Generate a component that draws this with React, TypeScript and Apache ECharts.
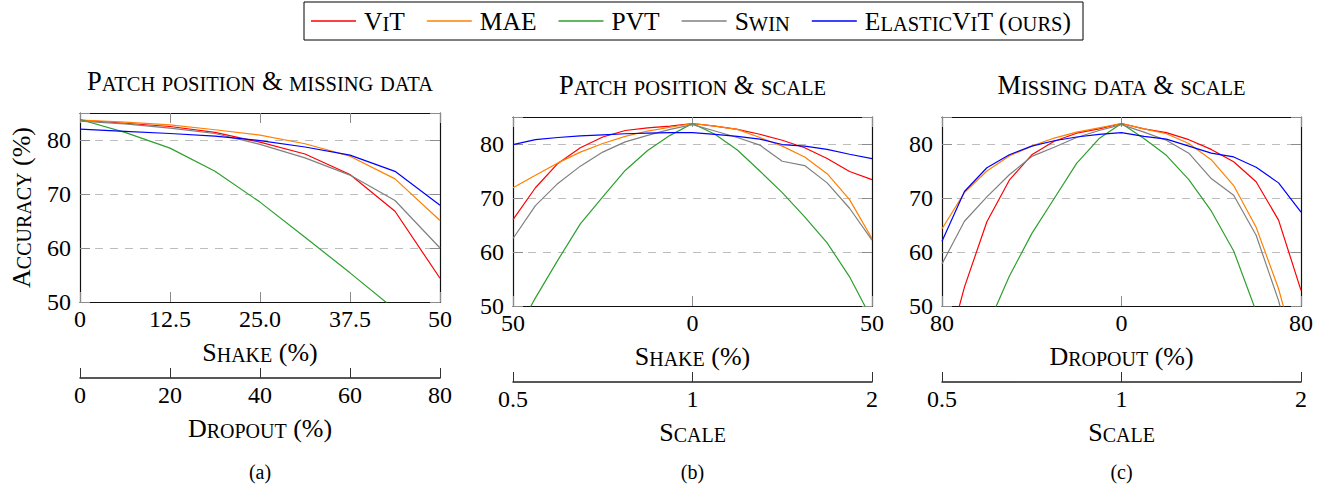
import React, { useEffect, useRef } from "react";
import * as echarts from "echarts";

const FONT = "'Liberation Serif', 'Times New Roman', Times, serif";

const seriesNames = ["ViT", "MAE", "PVT", "Swin", "ElasticViT (ours)"];
const seriesColors = ["#ff0000", "#ff8000", "#2ca02c", "#808080", "#0000ff"];

// ---------- Panel (a): patch position & missing data ----------
const shakeA = [0, 6.25, 12.5, 18.75, 25, 31.25, 37.5, 43.75, 50];
const vitA = [83.7, 83.1, 82.5, 81.4, 79.6, 77.4, 73.6, 66.8, 54.4];
const maeA = [83.7, 83.3, 82.8, 81.9, 80.9, 79.3, 77.0, 72.8, 65.1];
const pvtA = [83.8, 81.4, 78.5, 74.2, 68.5, 62.0, 55.4, 48.6, 40.0];
const swinA = [83.5, 83.0, 82.2, 81.2, 79.2, 76.7, 73.5, 68.8, 60.0];
const elasticA = [82.0, 81.6, 81.2, 80.7, 79.9, 78.7, 77.2, 74.2, 67.9];

const shakeTickValuesA = [0, 12.5, 25, 37.5, 50];
const shakeTickLabelsA = ["0", "12.5", "25.0", "37.5", "50"];
const dropoutTickValuesA = [0, 20, 40, 60, 80];
const dropoutTickLabelsA = ["0", "20", "40", "60", "80"];

// ---------- Panel (b): patch position & scale ----------
const shakeB = [-50, -43.75, -37.5, -31.25, -25, -18.75, -12.5, -6.25, 0, 6.25, 12.5, 18.75, 25, 31.25, 37.5, 43.75, 50];
const vitB = [66.0, 71.9, 76.4, 79.3, 81.3, 82.5, 83.0, 83.3, 83.8, 83.3, 82.7, 81.8, 80.7, 79.3, 77.3, 74.9, 73.4];
const maeB = [71.9, 74.2, 76.5, 78.5, 80.1, 81.4, 82.4, 83.1, 83.8, 83.3, 82.7, 81.2, 79.6, 77.6, 74.5, 69.7, 62.5];
const pvtB = [44.0, 51.5, 58.5, 65.2, 70.2, 75.1, 78.8, 81.6, 83.8, 81.8, 78.9, 75.0, 71.0, 66.5, 61.7, 55.4, 47.5];
const swinB = [62.5, 68.6, 72.7, 75.9, 78.5, 80.4, 81.6, 82.7, 83.6, 82.4, 81.2, 79.8, 76.8, 76.0, 72.8, 68.1, 62.2];
const elasticB = [79.9, 80.8, 81.2, 81.5, 81.7, 81.9, 82.0, 82.1, 82.1, 81.8, 81.4, 80.9, 79.9, 79.6, 79.0, 78.1, 77.3];

const shakeTickValuesB = [-50, 0, 50];
const shakeTickLabelsB = ["50", "0", "50"];

// ---------- Panel (c): missing data & scale ----------
const dropoutC = [-80, -70, -60, -50, -40, -30, -20, -10, 0, 10, 20, 30, 40, 50, 60, 70, 80];
const vitC = [38.0, 53.5, 65.6, 73.3, 78.0, 80.5, 82.0, 82.8, 83.8, 82.8, 82.1, 80.8, 79.0, 76.7, 73.0, 65.9, 52.9];
const maeC = [64.3, 71.0, 75.0, 77.8, 79.6, 81.1, 82.2, 83.0, 83.8, 82.8, 81.9, 80.1, 77.1, 72.3, 64.6, 53.2, 38.0];
const pvtC = [30.0, 37.0, 46.0, 55.5, 63.4, 69.9, 76.4, 81.0, 83.8, 81.0, 77.9, 73.4, 67.6, 60.2, 49.0, 38.0, 28.0];
const swinC = [57.8, 65.7, 70.2, 74.3, 77.7, 79.4, 81.2, 82.5, 83.6, 82.2, 80.7, 78.3, 73.6, 70.5, 63.1, 51.0, 35.0];
const elasticC = [62.0, 71.2, 75.6, 78.0, 79.6, 80.6, 81.3, 81.8, 82.1, 81.4, 80.9, 79.6, 78.3, 77.6, 75.7, 72.8, 67.4];

const dropoutTickValuesC = [-80, 0, 80];
const dropoutTickLabelsC = ["80", "0", "80"];

// Scale axis (log2 positions) for (b) and (c)
const scaleTickValues = [-1, 0, 1];
const scaleTickLabels = ["0.5", "1", "2"];

// Accuracy axis
const accuracyTickValues = [50, 60, 70, 80];
const accuracyTickLabels = ["50", "60", "70", "80"];

const titles = ["Patch position & missing data", "Patch position & scale", "Missing data & scale"];
const subcaptions = ["(a)", "(b)", "(c)"];

// small caps helper: lowercase letters -> small uppercase
function sc(text: string): string {
  let out = "";
  let cur = "";
  let mode = "";
  for (const ch of text) {
    const m = /[a-z]/.test(ch) ? "s" : "B";
    const c = m === "s" ? ch.toUpperCase() : ch;
    if (m !== mode && cur) {
      out += `{${mode}|${cur}}`;
      cur = "";
    }
    mode = m;
    cur += c;
  }
  if (cur) out += `{${mode}|${cur}}`;
  return out;
}

const rich = (b: number, s: number) => ({
  B: { fontFamily: FONT, fontSize: b, color: "#000", verticalAlign: "bottom" },
  s: { fontFamily: FONT, fontSize: s, color: "#000", verticalAlign: "bottom" },
});

const tickRich = { t: { fontFamily: FONT, fontSize: 24, color: "#000" } };

const lookup = (vals: number[], labels: string[]) => (v: number) => {
  const i = vals.findIndex((t) => Math.abs(t - v) < 1e-6);
  return i >= 0 ? `{t|${labels[i]}}` : "";
};

type Panel = {
  grid: { left: number; top: number; width: number; height: number };
  xs: number[];
  ys: number[][];
  xMin: number;
  xMax: number;
  xInterval: number;
  xTickValues: number[];
  xTickLabels: string[];
  xName: string;
  x2Min: number;
  x2Max: number;
  x2Interval: number;
  x2TickValues: number[];
  x2TickLabels: string[];
  x2Name: string;
  titleY: number;
};

const panels: Panel[] = [
  {
    grid: { left: 80, top: 113, width: 360, height: 189 },
    xs: shakeA,
    ys: [vitA, maeA, pvtA, swinA, elasticA],
    xMin: 0, xMax: 50, xInterval: 12.5,
    xTickValues: shakeTickValuesA, xTickLabels: shakeTickLabelsA, xName: "Shake (%)",
    x2Min: 0, x2Max: 80, x2Interval: 20,
    x2TickValues: dropoutTickValuesA, x2TickLabels: dropoutTickLabelsA, x2Name: "Dropout (%)",
    titleY: 81,
  },
  {
    grid: { left: 513, top: 117, width: 359, height: 189 },
    xs: shakeB,
    ys: [vitB, maeB, pvtB, swinB, elasticB],
    xMin: -50, xMax: 50, xInterval: 50,
    xTickValues: shakeTickValuesB, xTickLabels: shakeTickLabelsB, xName: "Shake (%)",
    x2Min: -1, x2Max: 1, x2Interval: 1,
    x2TickValues: scaleTickValues, x2TickLabels: scaleTickLabels, x2Name: "Scale",
    titleY: 85,
  },
  {
    grid: { left: 942, top: 117, width: 359, height: 189 },
    xs: dropoutC,
    ys: [vitC, maeC, pvtC, swinC, elasticC],
    xMin: -80, xMax: 80, xInterval: 80,
    xTickValues: dropoutTickValuesC, xTickLabels: dropoutTickLabelsC, xName: "Dropout (%)",
    x2Min: -1, x2Max: 1, x2Interval: 1,
    x2TickValues: scaleTickValues, x2TickLabels: scaleTickLabels, x2Name: "Scale",
    titleY: 85,
  },
];

function buildOption(): any {
  const grids: any[] = [];
  const xAxes: any[] = [];
  const yAxes: any[] = [];
  const series: any[] = [];
  const graphics: any[] = [];

  const borderLine = { onZero: false, lineStyle: { color: "#111", width: 1.2 } };
  const innerTick = { inside: true, length: 10, lineStyle: { color: "#8c8c8c", width: 1 } };
  const tickFont = { fontFamily: FONT, fontSize: 24, color: "#000", rich: tickRich };

  panels.forEach((p, i) => {
    grids.push({ ...p.grid, containLabel: false, outerBoundsMode: "none" });

    xAxes.push({
      gridIndex: i, type: "value", position: "bottom",
      min: p.xMin, max: p.xMax, interval: p.xInterval,
      axisLine: borderLine, axisTick: innerTick,
      axisLabel: { ...tickFont, margin: 5, formatter: lookup(p.xTickValues, p.xTickLabels) },
      splitLine: { show: false },
      name: sc(p.xName), nameLocation: "middle", nameGap: 37,
      nameTextStyle: { fontFamily: FONT, fontSize: 26, rich: rich(26, 20) },
    });
    xAxes.push({
      gridIndex: i, type: "value", position: "top",
      min: p.xMin, max: p.xMax, interval: p.xInterval,
      axisLine: borderLine, axisTick: innerTick,
      axisLabel: { show: false }, splitLine: { show: false },
    });
    xAxes.push({
      gridIndex: i, type: "value", position: "bottom", offset: 76,
      min: p.x2Min, max: p.x2Max, interval: p.x2Interval,
      axisLine: { onZero: false, lineStyle: { color: "#222", width: 1.5 } },
      axisTick: { inside: true, length: 10, lineStyle: { color: "#333", width: 1 } },
      axisLabel: { ...tickFont, margin: 5, formatter: lookup(p.x2TickValues, p.x2TickLabels) },
      splitLine: { show: false },
      name: sc(p.x2Name), nameLocation: "middle", nameGap: 37,
      nameTextStyle: { fontFamily: FONT, fontSize: 26, rich: rich(26, 20) },
    });

    const yLeft: any = {
      gridIndex: i, type: "value", position: "left",
      min: 50, max: 85, interval: 10,
      axisLine: borderLine, axisTick: innerTick,
      axisLabel: { ...tickFont, margin: 9, formatter: lookup(accuracyTickValues, accuracyTickLabels) },
      splitLine: { show: true, lineStyle: { color: "#bdbdbd", width: 1, type: [8, 7] } },
    };
    if (i === 0) {
      yLeft.name = sc("Accuracy (%)");
      yLeft.nameLocation = "middle";
      yLeft.nameGap = 46;
      yLeft.nameTextStyle = { fontFamily: FONT, fontSize: 26, rich: rich(26, 20) };
    }
    yAxes.push(yLeft);
    yAxes.push({
      gridIndex: i, type: "value", position: "right",
      min: 50, max: 85, interval: 10,
      axisLine: borderLine, axisTick: innerTick,
      axisLabel: { show: false }, splitLine: { show: false },
    });

    p.ys.forEach((ys, j) => {
      series.push({
        type: "line",
        name: seriesNames[j],
        xAxisIndex: 3 * i,
        yAxisIndex: 2 * i,
        data: p.xs.map((x, k) => [x, ys[k]]),
        symbol: "none",
        clip: true,
        silent: true,
        z: 2 + j,
        lineStyle: { color: seriesColors[j], width: 1.2 },
        itemStyle: { color: seriesColors[j] },
        emphasis: { disabled: true },
      });
    });

    const cx = p.grid.left + p.grid.width / 2;
    graphics.push({
      type: "text", x: cx, y: p.titleY, silent: true,
      style: { text: sc(titles[i]), rich: rich(26.5, 20.5), font: `26px ${FONT}`, fill: "#000", align: "center", verticalAlign: "middle" },
    });
    graphics.push({
      type: "text", x: cx, y: 472, silent: true,
      style: { text: subcaptions[i], font: `20px ${FONT}`, fill: "#000", align: "center", verticalAlign: "middle" },
    });
  });

  return {
    animation: false,
    backgroundColor: "#fff",
    legend: {
      data: seriesNames,
      left: 304, top: 2,
      orient: "horizontal",
      icon: "rect",
      itemWidth: 45, itemHeight: 1.3, itemGap: 22,
      padding: [6, 12, 6, 7],
      borderColor: "#000", borderWidth: 1,
      selectedMode: false,
      formatter: (n: string) => sc(n),
      textStyle: { fontFamily: FONT, fontSize: 25.5, color: "#000", rich: rich(25.5, 20.5), padding: [0, 0, 0, 3] },
    },
    grid: grids,
    xAxis: xAxes,
    yAxis: yAxes,
    series,
    graphic: graphics,
  };
}

export default function App() {
  const ref = useRef<HTMLDivElement>(null);
  useEffect(() => {
    const chart = echarts.init(ref.current!, undefined, { renderer: "svg" });
    chart.setOption(buildOption());
    return () => chart.dispose();
  }, []);
  return (
    <div
      ref={ref}
      style={{ position: "absolute", left: 0, top: 0, width: 1325, height: 488, background: "#fff" }}
    />
  );
}
